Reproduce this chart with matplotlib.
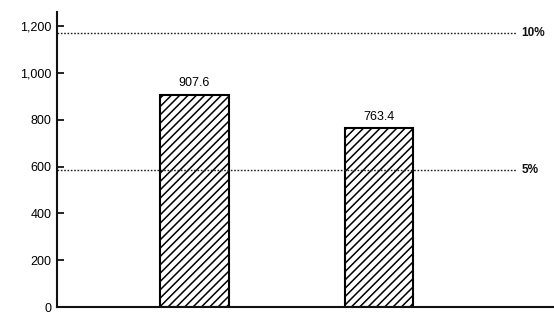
import matplotlib
matplotlib.use("Agg")
import matplotlib.pyplot as plt
from matplotlib.ticker import FuncFormatter

categories = ["A", "B"]
values = [907.6, 763.4]
value_labels = ["907.6", "763.4"]
ref_levels = [1170, 585]
ref_labels = ["10%", "5%"]
yticks = [0, 200, 400, 600, 800, 1000, 1200]

plt.rcParams['font.family'] = ['Liberation Sans', 'DejaVu Sans']
plt.rcParams['hatch.linewidth'] = 1.1

fig = plt.figure(figsize=(5.54, 3.14), dpi=100)
ax = fig.add_axes([57/554, 7/314, 497/554, 295/314])

x = list(range(len(categories)))
bars = ax.bar(x, values, width=0.37, color='white', edgecolor='black',
              hatch='////', linewidth=1.5)
for xi, v, lab in zip(x, values, value_labels):
    ax.annotate(lab, (xi, v), xytext=(0, 4), textcoords='offset points',
                ha='center', va='bottom', fontsize=9, color='#000000')

x_left, x_right = -0.745, 1.948
line_end = 1.748
for lvl, lab in zip(ref_levels, ref_labels):
    ax.plot([x_left, line_end], [lvl, lvl], color='#222222', linewidth=1.0,
            linestyle=(0, (1.2, 1.2)))
    ax.text(line_end + 0.025, lvl, lab, ha='left', va='center', fontsize=8.5,
            fontweight='bold', color='#111111')

ax.set_xlim(x_left, x_right)
ax.set_ylim(0, 1260)
ax.set_yticks(yticks)
ax.yaxis.set_major_formatter(FuncFormatter(lambda v, p: f"{int(v):,}"))
ax.set_xticks([])
ax.tick_params(axis='y', direction='in', length=5, width=1.2, labelsize=9,
               pad=4, colors='#000000')
for s in ['top', 'right']:
    ax.spines[s].set_visible(False)
for s in ['left', 'bottom']:
    ax.spines[s].set_linewidth(1.5)
    ax.spines[s].set_color('#111111')

fig.savefig("out.png", dpi=100)
